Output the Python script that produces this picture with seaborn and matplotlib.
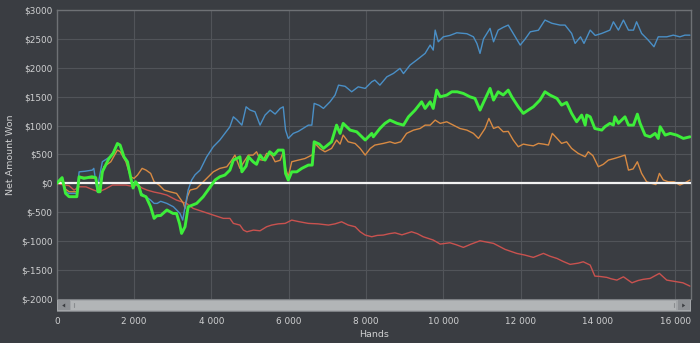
import matplotlib
matplotlib.use("Agg")
import matplotlib.pyplot as plt
import seaborn as sns
import pandas as pd
from matplotlib.patches import Rectangle, Polygon

# ---------------- data ----------------
green_hands = [0,140,230,320,520,580,700,910,1010,1070,1120,1180,1350,1460,1570,1640,1740,1830,1910,1975,
               2040,2130,2190,2310,2430,2520,2590,2690,2850,3010,3100,3180,3230,3320,3400,3620,3790,3970,4100,4220,
               4350,4480,4570,4660,4740,4790,4900,4960,5080,5170,5260,5340,5390,5510,5620,5730,5860,5920,5990,6080,
               6210,6340,6510,6610,6660,6790,6900,7110,7240,7330,7410,7590,7760,7980,8150,8190,8360,8490,8620,8800,
               8970,9100,9270,9440,9530,9660,9740,9830,9920,10090,10220,10360,10520,10690,10820,10950,11040,11210,11300,11420,
               11550,11680,11770,11940,12070,12200,12330,12500,12630,12760,12940,13060,13190,13320,13450,13580,13670,13710,13800,13920,
               14100,14180,14310,14400,14440,14530,14700,14790,14920,15020,15090,15220,15350,15480,15560,15610,15740,15870,16040,16210,16380]
green_won = [0,100,-173,-230,-230,115,87,115,100,-145,-145,200,430,519,690,663,460,375,115,-80,
             30,-58,-200,-230,-405,-605,-560,-555,-460,-520,-520,-700,-865,-750,-405,-346,-230,-60,60,115,
             144,230,403,432,460,200,300,461,374,330,490,420,403,547,490,576,576,173,57,200,
             200,260,317,317,720,680,605,720,1008,865,1038,922,893,750,865,806,950,1038,1095,1040,
             1008,1152,1268,1412,1297,1412,1297,1614,1498,1528,1585,1585,1556,1498,1470,1268,1400,1643,1441,1585,
             1530,1614,1500,1325,1211,1270,1325,1441,1585,1528,1470,1355,1400,1211,1066,1182,1008,1182,1152,950,
             922,980,1038,1010,1152,1040,1152,1008,1008,1198,1040,835,806,864,778,980,835,865,835,778,806]

blue_hands = [0,140,230,320,520,580,730,920,960,1050,1090,1180,1310,1380,1460,1570,1640,1740,1830,1910,
              1975,2040,2130,2190,2310,2430,2520,2600,2690,2850,3020,3190,3260,3320,3400,3490,3580,3710,3880,4050,
              4220,4350,4480,4570,4660,4790,4900,5000,5130,5260,5390,5520,5650,5780,5860,5920,5990,6120,6250,6370,
              6510,6600,6660,6790,6900,7070,7200,7290,7460,7630,7800,7980,8150,8230,8360,8540,8710,8880,8970,9140,
              9310,9530,9660,9740,9790,9870,10000,10170,10350,10610,10780,10870,10950,11040,11210,11300,11420,11550,11680,11860,
              11990,12120,12250,12460,12630,12810,13020,13150,13320,13410,13550,13640,13800,13930,14100,14310,14400,14530,14660,14790,
              14920,15000,15130,15300,15450,15560,15780,15950,16120,16250,16380]
blue_won = [0,100,-150,-173,-173,200,210,230,260,-145,57,374,432,461,540,680,650,460,375,115,
            -60,30,-60,-170,-231,-289,-346,-346,-310,-346,-405,-520,-635,-405,-116,57,150,230,460,634,
            750,865,980,1152,1100,1008,1325,1270,1239,1008,1182,1268,1200,1297,1325,922,778,865,900,950,
            1008,1008,1384,1350,1297,1412,1528,1700,1680,1585,1671,1643,1758,1787,1700,1844,1903,1990,1900,2047,
            2133,2249,2393,2306,2652,2450,2536,2560,2606,2590,2536,2420,2249,2500,2682,2450,2652,2700,2739,2536,
            2393,2500,2623,2650,2826,2770,2739,2739,2595,2422,2536,2422,2652,2560,2595,2652,2796,2652,2826,2652,
            2652,2796,2595,2480,2364,2536,2536,2565,2536,2565,2565]

orange_hands = [0,140,230,320,520,580,910,1010,1090,1220,1400,1570,1640,1790,1910,2000,2090,2210,2310,2430,
                2520,2650,2780,2930,3100,3190,3280,3320,3380,3450,3620,3750,3880,4050,4220,4400,4530,4610,4740,4850,
                4960,5080,5170,5260,5340,5430,5560,5650,5780,5860,5920,5990,6080,6250,6420,6600,6660,6680,6810,6940,
                7110,7240,7330,7410,7540,7720,7850,7980,8110,8230,8450,8620,8750,8900,9050,9230,9400,9530,9660,9790,
                9920,10090,10260,10430,10610,10780,10910,11080,11180,11300,11420,11550,11680,11810,11940,12070,12200,12330,12460,12590,
                12720,12820,12940,13060,13190,13320,13490,13670,13750,13870,14010,14140,14270,14420,14570,14700,14790,14910,15020,15130,
                15260,15390,15500,15590,15690,15820,15970,16120,16250,16380]
orange_won = [0,60,-100,-145,-145,115,90,90,-120,288,375,576,550,375,115,87,144,260,230,173,
              28,-29,-116,-145,-173,-260,-346,-433,-231,-116,-87,0,87,200,260,288,403,490,260,380,
              490,490,547,410,400,519,490,374,400,547,260,115,374,403,430,490,547,692,600,547,
              605,750,680,836,720,690,605,490,605,663,692,720,692,720,865,922,950,1008,1008,1095,
              1038,1066,1008,950,922,865,778,950,1124,951,980,893,900,750,634,680,663,650,692,680,
              663,865,780,692,720,605,519,461,547,480,288,330,403,430,461,490,230,250,374,173,
              28,0,-20,173,60,28,28,-29,10,57]

red_hands = [0,140,320,450,580,760,960,1090,1250,1440,1610,1790,1950,2090,2210,2340,2520,2690,2850,3100,
             3360,3530,3790,4050,4310,4480,4570,4740,4830,4920,5090,5260,5430,5560,5730,5910,6080,6250,6510,6760,
             7030,7200,7370,7540,7720,7850,7980,8150,8290,8450,8600,8750,8930,9180,9330,9480,9740,9920,10170,10330,
             10520,10720,10950,11300,11600,11900,12110,12330,12590,12760,12940,13100,13280,13490,13620,13800,13920,14050,14230,14340,
             14490,14660,14880,15040,15170,15350,15470,15590,15780,16040,16200,16380]
red_won = [0,-20,-40,-116,-58,-60,-116,-145,-100,-29,-29,-29,-50,-29,-80,-116,-150,-173,-202,-289,
           -346,-433,-490,-548,-605,-605,-692,-721,-808,-837,-808,-820,-750,-721,-700,-692,-635,-660,-692,-700,
           -721,-700,-664,-720,-750,-837,-894,-923,-900,-894,-870,-855,-890,-837,-870,-923,-980,-1050,-1027,-1060,
           -1107,-1050,-993,-1038,-1142,-1211,-1240,-1280,-1211,-1260,-1298,-1350,-1401,-1380,-1356,-1413,-1604,-1610,-1626,-1650,
           -1673,-1616,-1720,-1680,-1660,-1644,-1600,-1557,-1673,-1702,-1720,-1777]

x_ticks = [0, 2000, 4000, 6000, 8000, 10000, 12000, 14000, 16000]
x_tick_labels = ["0", "2 000", "4 000", "6 000", "8 000", "10 000", "12 000", "14 000", "16 000"]
y_ticks = [-2000, -1500, -1000, -500, 0, 500, 1000, 1500, 2000, 2500, 3000]
y_tick_labels = ["$-2000", "$-1500", "$-1000", "$-500", "$0", "$500", "$1000", "$1500", "$2000", "$2500", "$3000"]

# ---------------- style ----------------
BG = "#3a3d42"
GRID = "#515459"
TXT = "#cfd0d1"
sns.set_theme(style="dark")
plt.rcParams["font.family"] = ["DejaVu Sans"]

fig = plt.figure(figsize=(7.0, 3.43), dpi=100, facecolor=BG)
W, H = 700.0, 343.0
L, R, T, B = 56.7, 690.7, 10.0, 299.0
ax = fig.add_axes([L / W, 1 - B / H, (R - L) / W, (B - T) / H])
ax.set_facecolor(BG)

series = [
    (red_hands, red_won, "#c9524f", 1.0, 3),
    (orange_hands, orange_won, "#d88a42", 1.0, 4),
    (blue_hands, blue_won, "#4a8fc6", 1.0, 5),
    (green_hands, green_won, "#3ded3a", 2.1, 7),
]
for hx, vy, col, lw, z in series:
    df = pd.DataFrame({"Hands": hx, "Won": vy})
    sns.lineplot(data=df, x="Hands", y="Won", color=col, linewidth=lw, ax=ax,
                 sort=False, estimator=None, zorder=z)

ax.axhline(0, color="#f2f2f2", linewidth=1.6, zorder=6)

ax.set_xlim(0, 16400)
ax.set_ylim(-2000, 3000)
ax.set_xticks(x_ticks)
ax.set_xticklabels(x_tick_labels)
ax.set_yticks(y_ticks)
ax.set_yticklabels(y_tick_labels)
ax.grid(True, color=GRID, linewidth=0.8)
ax.set_axisbelow(True)
ax.tick_params(axis="both", length=0, colors=TXT, labelsize=6.4)
ax.tick_params(axis="x", pad=13)
ax.tick_params(axis="y", pad=3)
for s in ["top", "right", "left"]:
    ax.spines[s].set_visible(True)
    ax.spines[s].set_color("#6e7175")
    ax.spines[s].set_linewidth(1.0)
ax.spines["bottom"].set_visible(False)
ax.set_xlabel("Hands", color=TXT, fontsize=6.8, labelpad=3)
ax.set_ylabel("Net Amount Won", color=TXT, fontsize=6.8, labelpad=4)

# ---------------- scrollbar decoration ----------------
sb_top, sb_bot = 299.0, 312.0
sax = fig.add_axes([L / W, 1 - sb_bot / H, (R - L) / W, (sb_bot - sb_top) / H])
sax.set_xlim(L, R)
sax.set_ylim(sb_bot, sb_top)
sax.axis("off")
sax.add_patch(Rectangle((L, sb_top), R - L, sb_bot - sb_top, facecolor="#7c7f83", edgecolor="none"))
sax.add_patch(Rectangle((L, sb_top + 1.2), R - L, sb_bot - sb_top - 2.4, facecolor="#a3a6a9", edgecolor="none"))
sax.add_patch(Rectangle((L + 1, sb_top + 1.5), 12, sb_bot - sb_top - 3, facecolor="#8d9094", edgecolor="none"))
sax.add_patch(Rectangle((R - 13, sb_top + 1.5), 12, sb_bot - sb_top - 3, facecolor="#8d9094", edgecolor="none"))
sax.add_patch(Rectangle((L + 14, sb_top + 2), R - L - 28.5, sb_bot - sb_top - 4, facecolor="#b2b5b7", edgecolor="none"))
cy = (sb_top + sb_bot) / 2
sax.add_patch(Polygon([[L + 8.5, cy - 2], [L + 8.5, cy + 2], [L + 5.5, cy]], closed=True, facecolor="#3a3c40", edgecolor="none"))
sax.add_patch(Polygon([[R - 8.5, cy - 2], [R - 8.5, cy + 2], [R - 5.5, cy]], closed=True, facecolor="#3a3c40", edgecolor="none"))
sax.plot([L + 17, L + 17], [cy - 2, cy + 2], color="#8a8d90", linewidth=0.8)
sax.plot([R - 17, R - 17], [cy - 2, cy + 2], color="#8a8d90", linewidth=0.8)

fig.savefig("out.png", dpi=100, facecolor=BG)
